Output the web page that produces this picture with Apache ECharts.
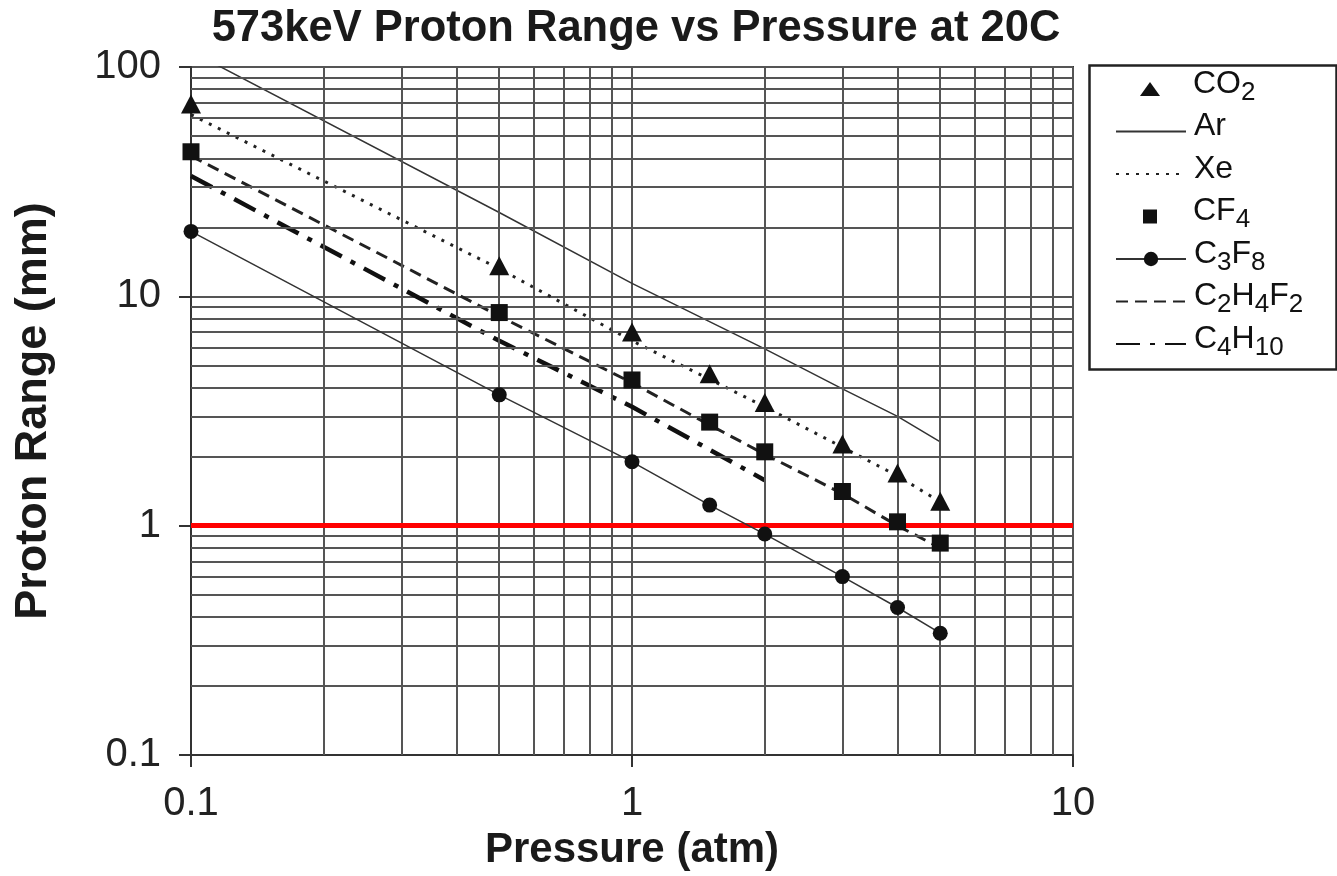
<!DOCTYPE html>
<html>
<head>
<meta charset="utf-8">
<script src="https://cdn.jsdelivr.net/npm/echarts@6/dist/echarts.min.js"></script>
<style>html,body{margin:0;padding:0;background:#fff}#c{width:1337px;height:876px}</style>
</head>
<body>
<div id="c"></div>
<script>
// ---- data ----
const pressure = [0.1, 0.5, 1, 1.5, 2, 3, 4, 5];
const co2    = [69, 13.6, 7.0, 4.6, 3.45, 2.27, 1.70, 1.28];
const xe     = [62, 13.2, 6.4, 4.35, 3.3, 2.2, 1.65, 1.27];
const cf4    = [42.7, 8.5, 4.32, 2.83, 2.10, 1.41, 1.04, 0.84];
const c2h4f2 = [41, 8.2, 4.2, 2.75, 2.05, 1.38, 1.0, 0.8];
const c3f8   = [19.2, 3.72, 1.90, 1.23, 0.92, 0.60, 0.44, 0.34];
const arPressure = [0.1, 0.5, 1, 2, 3, 4, 5];
const ar     = [117, 23.2, 11.4, 5.9, 3.95, 3.0, 2.32];
const c4h10Pressure = [0.1, 0.5, 1, 2];
const c4h10  = [33.5, 6.4, 3.3, 1.58];
const xMinorGrid = [0.2, 0.3, 0.4, 0.5, 0.6, 0.7, 0.8, 0.9, 2, 3, 4, 5, 6, 7, 8, 9];
const yMinorGrid = [0.2, 0.3, 0.4, 0.5, 0.6, 0.7, 0.8, 0.9, 2, 3, 4, 5, 6, 7, 8, 9, 20, 30, 40, 50, 60, 70, 80, 90];
const refLine = 1;
const legendNames = ['CO2', 'Ar', 'Xe', 'CF4', 'C3F8', 'C2H4F2', 'C4H10'];
const legendRich = {
  'CO2': 'CO{s|2}', 'Ar': 'Ar', 'Xe': 'Xe', 'CF4': 'CF{s|4}',
  'C3F8': 'C{s|3}F{s|8}', 'C2H4F2': 'C{s|2}H{s|4}F{s|2}', 'C4H10': 'C{s|4}H{s|10}'
};
const legendIcons = {
  'CO2': 'path://M0,14L10,0L20,14Z',
  'CF4': 'path://M0,0H14V14H0Z'
};

const zip = (xs, ys) => xs.map((x, i) => [x, ys[i]]);
const FONT = 'Liberation Sans, Arial, sans-serif';
const GRIDC = '#555';
const LH = 43;
const PB = 10;

const legends = legendNames.map((n, i) => {
  const item = {name: n};
  let left = 1115, ih = 16;
  if (n === 'CO2') { item.icon = legendIcons[n]; left = 1140; ih = 14; }
  else if (n === 'CF4') { item.icon = legendIcons[n]; left = 1143; ih = 14; }
  else if (n === 'C3F8') { ih = 18; }
  else item.itemStyle = {opacity: 0};
  return {
    data: [item],
    orient: 'vertical', left: left, top: 89 + i * 42.5 - (LH + PB) / 2, padding: 0,
    itemWidth: 70, itemHeight: ih, itemGap: 0, symbolKeepAspect: true,
    selectedMode: false,
    formatter: nm => legendRich[nm],
    textStyle: {
      fontFamily: FONT, fontSize: 32, color: '#111', lineHeight: LH,
      padding: [0, 0, PB, 3],
      rich: {s: {fontFamily: FONT, fontSize: 26, color: '#111', lineHeight: LH - 22, verticalAlign: 'bottom'}}
    }
  };
});

const chart = echarts.init(document.getElementById('c'), null, {renderer: 'canvas'});
chart.setOption({
  backgroundColor: '#fff',
  animation: false,
  title: {
    text: '573keV Proton Range vs Pressure at 20C',
    left: 631, top: 2, textAlign: 'center',
    textStyle: {fontFamily: FONT, fontSize: 43.5, fontWeight: 'bold', color: '#1a1a1a'}
  },
  grid: {left: 191, right: 264, top: 67, bottom: 119, show: true, borderColor: '#333', borderWidth: 2},
  xAxis: {
    type: 'log', logBase: 10, min: 0.1, max: 10,
    name: 'Pressure (atm)', nameLocation: 'middle', nameGap: 62,
    nameTextStyle: {fontFamily: FONT, fontSize: 42, fontWeight: 'bold', color: '#1a1a1a'},
    axisLine: {show: true, onZero: false, lineStyle: {color: '#333', width: 2}},
    axisTick: {show: true, length: 12, lineStyle: {color: '#333', width: 2}},
    axisLabel: {fontFamily: FONT, fontSize: 40, color: '#222', margin: 29,
      formatter: v => String(+v.toPrecision(3))},
    splitLine: {show: true, lineStyle: {color: GRIDC, width: 2}},
    minorTick: {show: false}, minorSplitLine: {show: false}
  },
  yAxis: {
    type: 'log', logBase: 10, min: 0.1, max: 100,
    name: 'Proton Range (mm)', nameLocation: 'middle', nameGap: 135,
    nameTextStyle: {fontFamily: FONT, fontSize: 45, fontWeight: 'bold', color: '#1a1a1a'},
    axisLine: {show: true, onZero: false, lineStyle: {color: '#333', width: 2}},
    axisTick: {show: true, length: 12, lineStyle: {color: '#333', width: 2}},
    axisLabel: {fontFamily: FONT, fontSize: 40, color: '#222', margin: 30,
      formatter: v => String(+v.toPrecision(3))},
    splitLine: {show: true, lineStyle: {color: GRIDC, width: 2}},
    minorTick: {show: false}, minorSplitLine: {show: false}
  },
  legend: legends,
  graphic: [{
    type: 'rect', left: 1087, top: 63, z: 100,
    shape: {width: 247, height: 304},
    style: {fill: 'none', stroke: '#222', lineWidth: 2.5}
  }],
  series: [
    {
      name: 'gridlines', type: 'line', data: [], z: 1, silent: true,
      markLine: {
        silent: true, symbol: 'none', label: {show: false}, animation: false,
        lineStyle: {color: GRIDC, width: 2, type: 'solid'},
        data: xMinorGrid.map(v => ({xAxis: v})).concat(yMinorGrid.map(v => ({yAxis: v})))
      }
    },
    {
      name: 'ref', type: 'line', data: [], z: 3, silent: true,
      markLine: {
        silent: true, symbol: 'none', label: {show: false}, animation: false,
        lineStyle: {color: '#ff0000', width: 5, type: 'solid'},
        data: [{yAxis: refLine}]
      }
    },
    {
      name: 'CO2', type: 'scatter', data: zip(pressure, co2), z: 5,
      symbol: 'triangle', symbolSize: [20, 19],
      itemStyle: {color: '#111', opacity: 1}
    },
    {
      name: 'Ar', type: 'line', data: zip(arPressure, ar), z: 4,
      symbol: 'none', lineStyle: {color: '#333', width: 1.5, type: 'solid'}, itemStyle: {color: '#333'}
    },
    {
      name: 'Xe', type: 'line', data: zip(pressure, xe), z: 4,
      symbol: 'none', lineStyle: {color: '#222', width: 3, type: [3, 7]}, itemStyle: {color: '#222'}
    },
    {
      name: 'CF4', type: 'scatter', data: zip(pressure, cf4), z: 5,
      symbol: 'rect', symbolSize: 17,
      itemStyle: {color: '#111', opacity: 1}
    },
    {
      name: 'C3F8', type: 'line', data: zip(pressure, c3f8), z: 5,
      symbol: 'circle', symbolSize: 15, showAllSymbol: true,
      lineStyle: {color: '#333', width: 1.5}, itemStyle: {color: '#111', opacity: 1}
    },
    {
      name: 'C2H4F2', type: 'line', data: zip(pressure, c2h4f2), z: 4,
      symbol: 'none', lineStyle: {color: '#222', width: 3, type: [12, 7]}, itemStyle: {color: '#222'}
    },
    {
      name: 'C4H10', type: 'line', data: zip(c4h10Pressure, c4h10), z: 4,
      symbol: 'none', lineStyle: {color: '#111', width: 4.5, type: [24, 10, 5, 10]}, itemStyle: {color: '#111'}
    }
  ]
});
</script>
</body>
</html>
